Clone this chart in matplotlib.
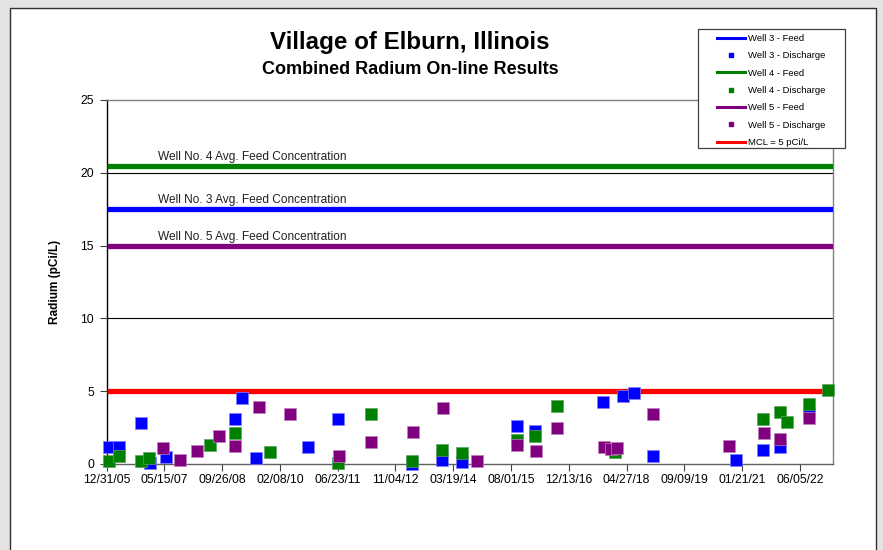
import matplotlib
matplotlib.use("Agg")
import matplotlib.pyplot as plt
import matplotlib.dates as mdates
from matplotlib.lines import Line2D
from matplotlib.patches import Rectangle
import pandas as pd
import datetime as dt

plt.rcParams['font.family'] = ['Liberation Sans', 'DejaVu Sans']

# ---- data ----
well3_dates = ['2006-01-24', '2006-04-18', '2006-10-25', '2007-01-11', '2007-05-30',
               '2009-01-16', '2009-03-20', '2009-07-16', '2010-10-06', '2011-06-23',
               '2013-03-29', '2013-12-14', '2014-05-30', '2015-09-18', '2016-02-24',
               '2017-10-06', '2018-03-28', '2018-07-01', '2018-12-13', '2020-11-25',
               '2021-07-21', '2021-12-13', '2022-08-21']
well3_vals = [1.2, 1.15, 2.85, 0.05, 0.45,
              3.07, 4.5, 0.4, 1.15, 3.1,
              0.0, 0.3, 0.15, 2.6, 2.3,
              4.25, 4.7, 4.85, 0.55, 0.3,
              0.95, 1.15, 3.5]

well4_dates = ['2006-01-24', '2006-04-18', '2006-10-25', '2007-01-03', '2008-06-13',
               '2009-01-16', '2009-11-14', '2011-06-23', '2012-04-03', '2013-03-29',
               '2013-12-14', '2014-05-30', '2015-09-18', '2016-02-24', '2016-08-29',
               '2018-01-16', '2021-07-21', '2021-12-13', '2022-02-14', '2022-08-21',
               '2023-02-04']
well4_vals = [0.2, 0.55, 0.2, 0.4, 1.3,
              2.15, 0.8, 0.05, 3.45, 0.2,
              0.95, 0.75, 1.65, 1.95, 4.0,
              0.8, 3.1, 3.6, 2.9, 4.15,
              5.05]

well5_dates = ['2007-05-06', '2007-09-28', '2008-02-19', '2008-09-02', '2009-01-16',
               '2009-08-11', '2010-05-06', '2011-07-04', '2012-04-06', '2013-04-02',
               '2013-12-17', '2014-10-07', '2015-09-23', '2016-03-01', '2016-08-29',
               '2017-10-12', '2017-12-12', '2018-02-02', '2018-12-13', '2020-09-28',
               '2021-07-27', '2021-12-13', '2022-08-21']
well5_vals = [1.1, 0.25, 0.9, 1.9, 1.25,
              3.9, 3.4, 0.55, 1.5, 2.2,
              3.85, 0.2, 1.3, 0.9, 2.5,
              1.15, 1.0, 1.1, 3.4, 1.25,
              2.1, 1.7, 3.15]

well3_feed = 17.5
well4_feed = 20.5
well5_feed = 15.0
mcl = 5.0

x_start = dt.datetime(2005, 12, 31)
x_end = dt.datetime(2023, 3, 15)
tick_step_days = 500

c3, c4, c5, cm = '#0000FF', '#008000', '#800080', '#FF0000'

# ---- figure ----
W, H = 883, 550
fig = plt.figure(figsize=(W / 100, H / 100), dpi=100, facecolor='#e4e4e4')

# chart area
fig.patches.append(Rectangle((10 / W, -0.05), 866 / W, 1.05 - 8 / H,
                             transform=fig.transFigure, facecolor='white',
                             edgecolor='#303030', linewidth=1.0, zorder=-10))

ax = fig.add_axes([106.5 / W, 1 - 464 / H, (832.7 - 106.5) / W, (464 - 100) / H])
ax.set_facecolor('white')

# feed / MCL lines
for val, col in [(well3_feed, c3), (well4_feed, c4), (well5_feed, c5), (mcl, cm)]:
    ax.plot([x_start, x_end], [val, val], color=col, lw=3.8, zorder=3,
            solid_capstyle='butt')

ms = 8.6
for d, v, col, edge in [(well3_dates, well3_vals, c3, '#8080ff'),
                        (well4_dates, well4_vals, c4, '#60a060'),
                        (well5_dates, well5_vals, c5, '#c080c0')]:
    ax.plot(pd.to_datetime(d), v, linestyle='none', marker='s', markersize=ms,
            color=col, markeredgecolor=edge, markeredgewidth=0.5,
            zorder=4, clip_on=False)

# gridlines
for gy in [5, 10, 15, 20]:
    ax.axhline(gy, color='black', lw=0.8, zorder=1)

ax.set_xlim(x_start, x_end)
ax.set_ylim(0, 25)
ticks = [x_start + dt.timedelta(days=tick_step_days * i) for i in range(13)]
ax.set_xticks(ticks)
ax.xaxis.set_major_formatter(mdates.DateFormatter('%m/%d/%y'))
ax.set_yticks([0, 5, 10, 15, 20, 25])
ax.tick_params(axis='x', labelsize=8.7, length=5, width=0.8, color='#404040', pad=2)
ax.tick_params(axis='y', labelsize=8.7, length=5, width=0.8, color='#404040', pad=4)

ax.spines['left'].set_color('black')
ax.spines['bottom'].set_color('#606060')
ax.spines['top'].set_color('#808080')
ax.spines['right'].set_color('#808080')
for s in ax.spines.values():
    s.set_linewidth(1.0)

# annotations
for val, txt in [(well4_feed, 'Well No. 4 Avg. Feed Concentration'),
                 (well3_feed, 'Well No. 3 Avg. Feed Concentration'),
                 (well5_feed, 'Well No. 5 Avg. Feed Concentration')]:
    ax.text(dt.datetime(2007, 3, 21), val + 0.2, txt, fontsize=8.6,
            ha='left', va='bottom', color='#202020')

ax.set_ylabel('Radium (pCi/L)', fontsize=8.5, fontweight='bold', labelpad=14)

fig.text(410 / W, 1 - 42 / H, 'Village of Elburn, Illinois', fontsize=17.4,
         fontweight='bold', ha='center', va='center')
fig.text(410 / W, 1 - 69 / H, 'Combined Radium On-line Results', fontsize=13,
         fontweight='bold', ha='center', va='center')

# legend
fig.patches.append(Rectangle((698 / W, 1 - 148 / H), 147 / W, 119 / H,
                             transform=fig.transFigure, facecolor='white',
                             edgecolor='#404040', linewidth=0.9, zorder=5))
handles = [
    Line2D([], [], color=c3, lw=2.2),
    Line2D([], [], color=c3, marker='s', linestyle='none', markersize=3.5),
    Line2D([], [], color=c4, lw=2.2),
    Line2D([], [], color=c4, marker='s', linestyle='none', markersize=3.5),
    Line2D([], [], color=c5, lw=2.2),
    Line2D([], [], color=c5, marker='s', linestyle='none', markersize=3.5),
    Line2D([], [], color=cm, lw=2.2),
]
labels = ['Well 3 - Feed', 'Well 3 - Discharge', 'Well 4 - Feed', 'Well 4 - Discharge',
          'Well 5 - Feed', 'Well 5 - Discharge', 'MCL = 5 pCi/L']
leg = fig.legend(handles, labels, loc='upper left',
                 bbox_to_anchor=(717 / W, 1 - 34 / H), fontsize=6.8,
                 frameon=False, handlelength=3.0,
                 handletextpad=0.25, labelspacing=0.88, borderpad=0,
                 borderaxespad=0)
leg.set_zorder(6)

fig.savefig('out.png', dpi=100, facecolor=fig.get_facecolor())
